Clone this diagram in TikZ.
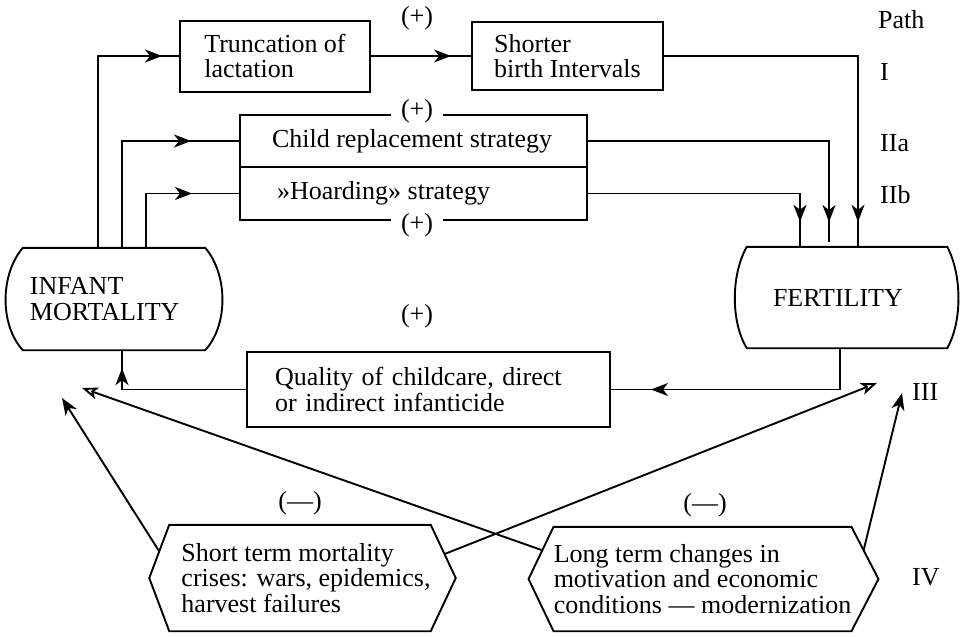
\documentclass[tikz,border=0pt]{standalone}
\usepackage{fontspec}
\setmainfont{Liberation Serif}
\usetikzlibrary{arrows.meta,decorations.markings,calc}
\begin{document}
\begin{tikzpicture}[x=1pt,y=-1pt,
  every node/.style={font=\fontsize{26}{25.5}\selectfont, inner sep=0pt},
  ln/.style={line width=1.9pt},
  box/.style={draw, line width=2pt, align=left},
  mtip/.style={postaction={decorate,decoration={markings,mark=at position #1 with {\arrow{Stealth[length=17pt,width=13pt,inset=5pt]}}}}},
  fa/.style={-{Stealth[length=17pt,width=13pt,inset=5pt]}},
  oa/.style={-{Stealth[open,length=16pt,width=12pt,inset=4pt]}},
  lab/.style={anchor=west},
  sign/.style={fill=white, inner xsep=10pt, inner ysep=2pt},
]
\useasboundingbox (0,0) rectangle (962,637);

% boxes
\node[box, minimum width=190pt, minimum height=71pt] (trunc) at (275,56) {Truncation of\\lactation};
\node[box, minimum width=191pt, minimum height=68pt] (shorter) at (567.5,56) {Shorter\\birth Intervals};
\node[box, minimum width=347pt, minimum height=52pt, inner xsep=32pt] (child) at (413.5,141) {\makebox[283pt][l]{Child replacement strategy}};
\node[box, minimum width=347pt, minimum height=53pt, inner xsep=37pt] (hoard) at (413.5,193.5) {\makebox[273pt][l]{»Hoarding» strategy}};
\node[box, minimum width=363pt, minimum height=75pt, text width=307pt, inner xsep=28pt] (qual) at (428.5,389.5) {Quality of childcare, direct\\or indirect infanticide};

% barrels
\node[minimum width=182pt, minimum height=102pt, text width=168pt, inner xsep=7pt, align=left] (im) at (114,299) {INFANT\\MORTALITY};
\draw[ln] (im.north west) -- (im.north east) .. controls +(23,27) and +(23,-25) .. (im.south east)
  -- (im.south west) .. controls +(-23,-25) and +(-23,27) .. cycle;
\node[minimum width=200pt, minimum height=101pt, text width=148pt, inner xsep=26pt, align=left] (fert) at (847,297.5) {FERTILITY};
\draw[ln] (fert.north west) -- (fert.north east) .. controls +(15,28) and +(15,-26) .. (fert.south east)
  -- (fert.south west) .. controls +(-16,-26) and +(-16,28) .. cycle;

% hexagons
\node[minimum width=248pt, minimum height=106pt, align=left] (short) at (306,578) {Short term mortality\\crises: wars, epidemics,\\harvest failures};
\draw[ln] ($(short.north west)+(-12,0)$) coordinate (shNW) -- (short.north east) -- ($(short.east)+(25,0)$) coordinate (shR)
  -- (short.south east) -- ($(short.south west)+(-12,0)$) -- ($(short.west)+(-32,0)$) coordinate (shL) -- cycle;
\node[minimum width=295pt, minimum height=104pt, align=left] (long) at (702.5,579) {Long term changes in\\motivation and economic\\conditions — modernization};
\draw[ln] (long.north west) -- (long.north east) -- ($(long.east)+(27,0)$) coordinate (loR)
  -- (long.south east) -- (long.south west) -- ($(long.west)+(-25,0)$) coordinate (loL) -- cycle;

% signs
\node (p1) at (417,18) {(+)};
\node[sign] (p2) at (417,111) {(+)};
\node[sign] (p3) at (417,225) {(+)};
\node (p4) at (417,316) {(+)};
\node (m1) at (300,503) {(—)};
\node (m2) at (705,505) {(—)};

% path labels
\node[lab] (lpath) at (878,20) {Path};
\node[lab] (lI) at (880,72) {I};
\node[lab] (lIIa) at (880,143) {IIa};
\node[lab] (lIIb) at (880,195) {IIb};
\node[lab] (lIII) at (912,392) {III};
\node[lab] (lIV) at (912,577) {IV};

% connectors
\draw[ln,mtip=-17pt] (im.north -| 98,0) |- (trunc.west);
\draw[ln,mtip=-20pt] (trunc.east) -- (shorter.west);
\draw[ln,mtip=-48pt] (im.north -| 122,0) |- (child.west);
\draw[ln,mtip=-47pt] (im.north -| 146,0) |- (hoard.west);
\draw[ln,mtip=-25pt] (shorter.east) -| (fert.north -| 858,0);
\coordinate (iiaend) at (829,242);
\draw[ln,mtip=-20pt] (child.east) -| (iiaend);
\draw[ln,mtip=-25pt] (hoard.east) -| (fert.north -| 800,0);
\draw[ln,mtip=-40pt] (fert.south -| 840,0) |- (qual.east);
\draw[ln,mtip=-18pt] (qual.west) -| (im.south -| 122,0);

\coordinate (sA) at ($(shNW)!0.5!(shL)$);
\coordinate (sB) at ($(short.north east)!0.55!(shR)$);
\coordinate (lA) at ($(long.north west)!0.45!(loL)$);
\coordinate (lB) at ($(long.north east)!0.45!(loR)$);
\coordinate (imA) at (62,398);
\coordinate (imB) at (82,388);
\coordinate (feA) at (877,383);
\coordinate (feB) at (902,393);
\draw[ln,fa] (sA) -- (imA);
\draw[ln,oa] (lA) -- (imB);
\draw[ln,oa] (sB) -- (feA);
\draw[ln,fa] (lB) -- (feB);
\end{tikzpicture}
\end{document}
